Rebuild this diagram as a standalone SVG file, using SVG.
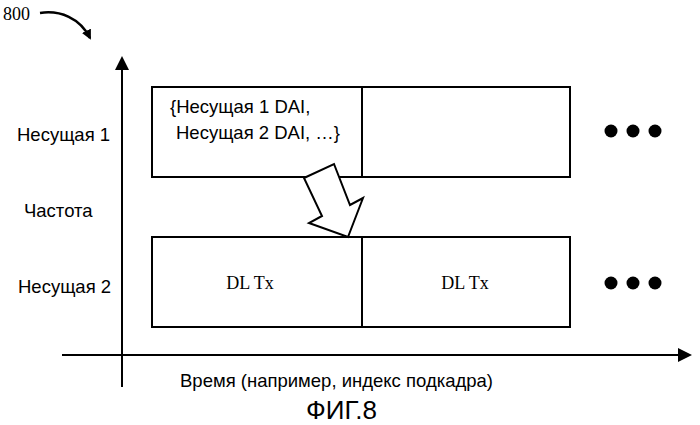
<svg xmlns="http://www.w3.org/2000/svg" width="700" height="425" viewBox="0 0 700 425">
<defs>
<marker id="ah" markerWidth="10" markerHeight="10" refX="8" refY="5" orient="auto" markerUnits="userSpaceOnUse"><path d="M0,0 L10,5 L0,10 z" fill="#000"/></marker>
<marker id="ax" markerWidth="14" markerHeight="14" refX="12" refY="7" orient="auto" markerUnits="userSpaceOnUse"><path d="M0,0 L14,7 L0,14 z" fill="#000"/></marker>
</defs>
<style>
.s{font-family:"Liberation Sans",Arial,sans-serif;font-size:18.5px;fill:#000}
.r{font-family:"Liberation Serif","Times New Roman",serif;font-size:18px;fill:#000}
.b{fill:#fff;stroke:#000;stroke-width:2}
</style>
<rect width="700" height="425" fill="#fff"/>
<text class="r" x="3" y="20">800</text>
<g id="connectors" fill="none" stroke="#000" stroke-width="2">
<path d="M40,13 C60,10 80,18 90,38" marker-end="url(#ah)" stroke-width="2.5"/>
<line x1="122" y1="387" x2="122" y2="58" marker-end="url(#ax)"/>
<line x1="62" y1="355" x2="690" y2="355" marker-end="url(#ax)"/>
</g>
<g id="c1a"><rect class="b" x="152" y="87" width="210" height="90"/>
<text class="s" x="170" y="113">{Несущая 1 DAI,</text>
<text class="s" x="176" y="139">Несущая 2 DAI, …}</text></g>
<g id="c1b"><rect class="b" x="362" y="87" width="208" height="90"/></g>
<g id="c2a"><rect class="b" x="152" y="237" width="210" height="90"/><text class="r" x="250" y="289" text-anchor="middle">DL Tx</text></g>
<g id="c2b"><rect class="b" x="362" y="237" width="208" height="90"/><text class="r" x="465" y="289" text-anchor="middle">DL Tx</text></g>
<g id="arrow"><polygon class="b" points="304,178 334,164 350,205 363,198 348,237 309,223 322,216"/></g>
<g id="dots1" fill="#000"><circle cx="611" cy="131" r="6.5"/><circle cx="633" cy="131" r="6.5"/><circle cx="655" cy="131" r="6.5"/></g>
<g id="dots2" fill="#000"><circle cx="611" cy="283" r="6.5"/><circle cx="633" cy="283" r="6.5"/><circle cx="655" cy="283" r="6.5"/></g>
<text class="s" x="17" y="141">Несущая 1</text>
<text class="s" x="24" y="217">Частота</text>
<text class="s" x="18" y="293">Несущая 2</text>
<text class="s" x="180" y="387">Время (например, индекс подкадра)</text>
<text class="s" x="306" y="419" style="font-size:26px">ФИГ.8</text>
</svg>
